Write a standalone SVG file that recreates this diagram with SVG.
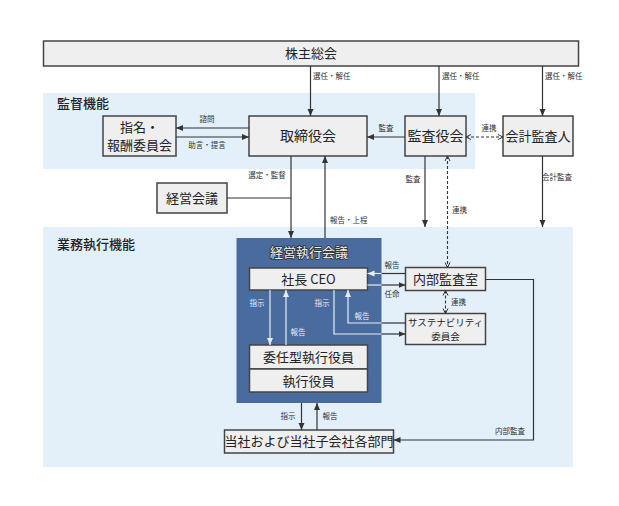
<svg xmlns="http://www.w3.org/2000/svg" width="619" height="506" viewBox="0 0 619 506">
<defs>
<marker id="a" markerUnits="userSpaceOnUse" markerWidth="8" markerHeight="8" refX="7" refY="4" orient="auto-start-reverse"><path d="M0,1 L7,4 L0,7 Z" fill="#333"/></marker>
<marker id="w" markerUnits="userSpaceOnUse" markerWidth="8" markerHeight="8" refX="7" refY="4" orient="auto-start-reverse"><path d="M0,1 L7,4 L0,7 Z" fill="#e6edf7"/></marker>
<marker id="d" markerUnits="userSpaceOnUse" markerWidth="8" markerHeight="8" refX="6" refY="4" orient="auto-start-reverse"><path d="M1,1.5 L6,4 L1,6.5" fill="none" stroke="#333" stroke-width="1"/></marker>
</defs>
<style>
text{font-family:"Noto Sans CJK JP","Noto Sans",sans-serif;fill:#222}
.box{fill:#efefef;stroke:#444;stroke-width:1.5}
.region{fill:#e3f0fa}
.t{font-size:13px;text-anchor:middle}
.tl{font-size:14px;text-anchor:middle}
.s{font-size:7.5px;fill:#333}
.m{text-anchor:middle}
.sw{font-size:7.5px;fill:#e6edf7}
.c{fill:none;stroke:#333;stroke-width:1.2}
.cd{fill:none;stroke:#333;stroke-width:1.1;stroke-dasharray:3 2}
.cw{fill:none;stroke:#e6edf7;stroke-width:1.2}
.sec{font-size:13px;font-weight:500}
.title{font-size:13px;text-anchor:middle;fill:#eee;stroke:#333;stroke-width:1.6;paint-order:stroke}
</style>
<rect class="region" x="43" y="93" width="432" height="76"/>
<rect class="region" x="43" y="227" width="530" height="240"/>
<text class="sec" x="57" y="108">監督機能</text>
<text class="sec" x="57" y="249">業務執行機能</text>

<g id="n-shareholders"><rect class="box" x="43.5" y="41" width="535" height="25"/><text class="t" x="311" y="58">株主総会</text></g>
<g id="n-nomination"><rect class="box" x="103" y="116" width="73" height="40"/><text class="t" x="139.5" y="132">指名・</text><text class="t" x="139.5" y="150">報酬委員会</text></g>
<g id="n-board"><rect class="box" x="249" y="116" width="118" height="40"/><text class="tl" x="308" y="141">取締役会</text></g>
<g id="n-auditors"><rect class="box" x="405" y="116" width="61" height="40"/><text class="tl" x="435.5" y="141">監査役会</text></g>
<g id="n-accounting"><rect class="box" x="503" y="116" width="70" height="40"/><text x="538" y="141" font-size="13" text-anchor="middle">会計監査人</text></g>
<g id="n-mgmt"><rect class="box" x="157" y="183" width="70" height="30"/><text class="t" x="192" y="203">経営会議</text></g>

<g id="n-exec"><rect x="236.5" y="238" width="145" height="165" fill="#4a6b9d"/><text class="title" x="309" y="257">経営執行会議</text></g>
<g id="n-ceo"><rect class="box" x="249.5" y="268" width="118" height="22"/><text class="t" x="308.5" y="284">社長 CEO</text></g>
<g id="n-officers"><rect class="box" x="249.5" y="345" width="118" height="24"/><text class="t" x="308.5" y="362">委任型執行役員</text><rect class="box" x="249.5" y="369" width="118" height="23"/><text class="t" x="308.5" y="386">執行役員</text></g>
<g id="n-internal"><rect class="box" x="405.5" y="267.5" width="80" height="23"/><text class="t" x="445.5" y="284">内部監査室</text></g>
<g id="n-sustain"><rect class="box" x="405.5" y="313.5" width="80" height="31"/><text x="445.5" y="326" font-size="9.5" text-anchor="middle">サステナビリティ</text><text x="445.5" y="340" font-size="9.5" text-anchor="middle">委員会</text></g>
<g id="n-depts"><rect class="box" x="224.5" y="430" width="169" height="23"/><text class="t" x="309" y="446">当社および当社子会社各部門</text></g>

<g id="connectors">
<path class="c" d="M310.5,66 V116" marker-end="url(#a)"/>
<path class="c" d="M439,66 V116" marker-end="url(#a)"/>
<path class="c" d="M542.5,66 V116" marker-end="url(#a)"/>
<text class="s" x="313" y="79">選任・解任</text>
<text class="s" x="442" y="79">選任・解任</text>
<text class="s" x="545" y="79">選任・解任</text>
<path class="c" d="M249,128 H176" marker-end="url(#a)"/>
<text class="s m" x="207" y="122">諮問</text>
<path class="c" d="M176,137 H249" marker-end="url(#a)"/>
<text class="s m" x="207" y="148">助言・提言</text>
<path class="c" d="M405,137 H367" marker-end="url(#a)"/>
<text class="s m" x="386" y="131">監査</text>
<path class="cd" d="M466,137 H503" marker-start="url(#d)" marker-end="url(#d)"/>
<text class="s m" x="489" y="131">連携</text>
<path class="c" d="M227,198 H291"/>
<path class="c" d="M291,156 V238" marker-end="url(#a)"/>
<text class="s m" x="267" y="178">選定・監督</text>
<path class="c" d="M325,238 V156" marker-end="url(#a)"/>
<text class="s" x="330" y="223">報告・上程</text>
<path class="c" d="M425,156 V227" marker-end="url(#a)"/>
<text class="s m" x="413" y="182">監査</text>
<path class="c" d="M542.5,156 V227" marker-end="url(#a)"/>
<text class="s m" x="557" y="180">会計監査</text>
<path class="cd" d="M447.5,156 V267.5" marker-start="url(#d)" marker-end="url(#d)"/>
<text class="s" x="452" y="213">連携</text>

<path class="cw" d="M270,290 V345" marker-end="url(#w)"/>
<text class="sw m" x="257" y="306">指示</text>
<path class="cw" d="M286,345 V290" marker-end="url(#w)"/>
<text class="sw m" x="298" y="335">報告</text>
<path class="cw" d="M334,290 V334 H381.5"/>
<path class="c" d="M381.5,334 H405.5" marker-end="url(#a)"/>
<text class="sw m" x="322" y="306">指示</text>
<path class="c" d="M405.5,323 H381.5"/>
<path class="cw" d="M381.5,323 H348 V290" marker-end="url(#w)"/>
<text class="sw m" x="362" y="319">報告</text>
<path class="c" d="M405.5,273.5 H381.5"/>
<path class="cw" d="M381.5,273.5 H367.5" marker-end="url(#w)"/>
<text class="s m" x="392" y="268">報告</text>
<path class="cw" d="M367.5,285 H381.5"/>
<path class="c" d="M381.5,285 H405.5" marker-end="url(#a)"/>
<text class="s m" x="392" y="297">任命</text>
<path class="cd" d="M445.5,290.5 V313.5" marker-start="url(#d)" marker-end="url(#d)"/>
<text class="s" x="451" y="305">連携</text>
<path class="c" d="M485.5,279.5 H533.5 V440 H393.5" marker-end="url(#a)"/>
<text class="s m" x="510" y="434">内部監査</text>
<path class="c" d="M301.5,403 V430" marker-end="url(#a)"/>
<text class="s m" x="288" y="419">指示</text>
<path class="c" d="M317,430 V403" marker-end="url(#a)"/>
<text class="s m" x="330" y="419">報告</text>
</g>
</svg>
